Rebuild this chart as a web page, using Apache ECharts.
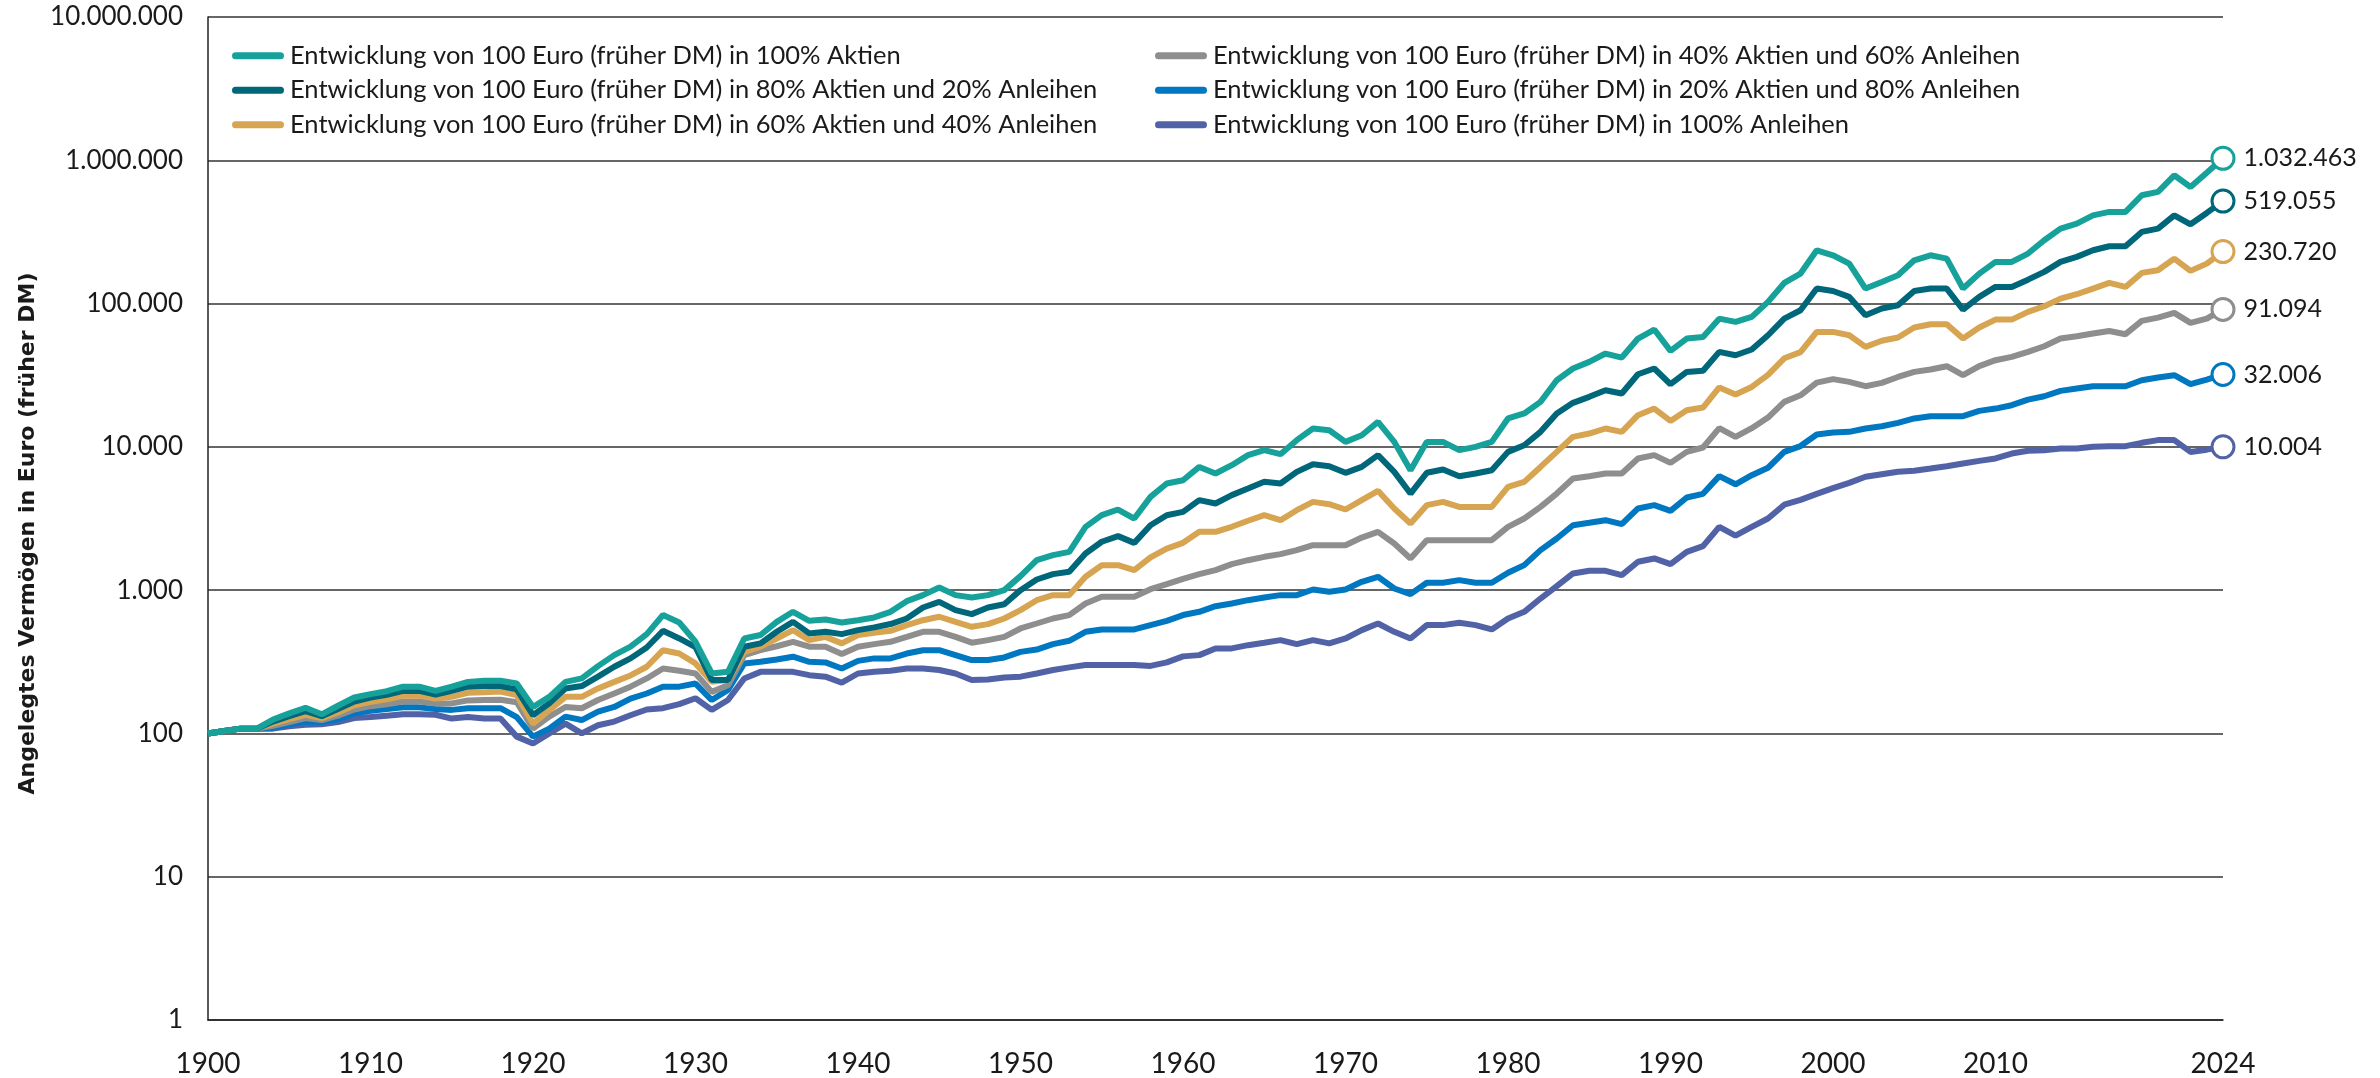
<!DOCTYPE html>
<html>
<head>
<meta charset="utf-8">
<title>Entwicklung von 100 Euro</title>
<script src="https://cdn.jsdelivr.net/npm/echarts@6/dist/echarts.min.js"></script>
<style>
html,body{margin:0;padding:0;background:#fff;}
#chart{width:2380px;height:1078px;}
</style>
</head>
<body>
<div id="chart"></div>
<script>
var startYear = 1900;
var xLabels = [1900,1910,1920,1930,1940,1950,1960,1970,1980,1990,2000,2010,2024];

var names = [
	"Entwicklung von 100 Euro (früher DM) in 100% Aktien",
	"Entwicklung von 100 Euro (früher DM) in 80% Aktien und 20% Anleihen",
	"Entwicklung von 100 Euro (früher DM) in 60% Aktien und 40% Anleihen",
	"Entwicklung von 100 Euro (früher DM) in 40% Aktien und 60% Anleihen",
	"Entwicklung von 100 Euro (früher DM) in 20% Aktien und 80% Anleihen",
	"Entwicklung von 100 Euro (früher DM) in 100% Anleihen"
];
var colors = ["#16a29a","#00677a","#d7a552","#8e8e8e","#0078c1","#5163a6"];

// Werte 1900 - 2024, je Jahr ein Wert
var aktien100 = [
	100,104,108,108,125,138,151,136,156,178,
	188,197,212,212,198,212,229,233,233,223,
	153,180,229,242,295,352,403,493,670,595,
	436,262,269,460,486,601,706,611,624,594,
	617,645,706,838,923,1044,923,889,923,1000,
	1253,1620,1755,1850,2765,3337,3653,3162,4477,5546,
	5848,7244,6513,7447,8750,9483,8892,11136,13430,13062,
	10832,12060,14929,10832,6866,10832,10832,9483,10000,10832,
	15780,17100,20620,29180,35230,39190,44800,41990,57000,65900,
	46800,57000,58500,78500,74500,80700,102700,139300,161900,235500,
	217300,190200,127300,141600,157700,200500,217300,206000,127300,161900,
	195400,195400,223400,276700,333600,361600,413000,436200,436200,570300,
	601700,785700,651600,820000,1032463
];
var aktien80 = [
	100,104,108,108,121,132,143,132,148,167,
	178,186,198,198,187,198,212,214,214,203,
	134,162,206,214,249,292,334,398,520,460,
	400,236,236,403,425,512,601,499,512,493,
	526,550,580,634,757,829,725,680,757,798,
	1000,1186,1294,1343,1803,2175,2382,2138,2840,3335,
	3520,4250,4027,4603,5120,5700,5546,6690,7570,7330,
	6590,7244,8750,6690,4720,6590,6950,6240,6513,6870,
	9225,10270,12730,17100,20280,22340,24850,23560,32130,35220,
	27360,33350,34000,46000,43600,47800,60100,78500,89800,127300,
	122500,111300,82900,92300,97300,122500,127300,127300,90800,111300,
	130700,130700,146900,166400,195400,211800,235500,251300,251300,316200,
	333600,413000,357500,429000,519055
];
var aktien60 = [
	100,104,108,108,117,126,135,128,140,157,
	166,173,183,183,175,180,192,194,196,185,
	117,145,180,180,206,229,254,292,381,361,
	308,229,236,371,403,460,526,448,472,425,
	486,504,520,570,617,652,601,555,579,634,
	725,851,923,923,1239,1493,1493,1380,1690,1950,
	2140,2552,2552,2767,3048,3337,3078,3614,4130,3980,
	3655,4250,4933,3716,2918,3917,4130,3810,3810,3810,
	5260,5700,7244,9225,11750,12390,13430,12730,16640,18500,
	15180,18030,18800,26000,23200,26200,31800,41500,45800,63400,
	63400,60100,49900,55000,58000,68100,71800,71800,57000,68100,
	77300,77300,87500,95800,108300,116200,127300,139300,130700,163700,
	171000,206000,169100,190000,230720
];
var aktien40 = [
	100,104,108,108,113,120,128,124,133,147,
	155,160,167,167,162,162,170,171,172,165,
	108,131,153,150,171,190,212,242,284,274,
	262,195,217,352,381,406,436,403,403,358,
	403,420,436,472,512,512,472,430,448,472,
	540,585,634,669,807,898,898,898,1015,1100,
	1200,1293,1379,1518,1618,1708,1783,1901,2060,2060,
	2060,2328,2552,2118,1664,2233,2233,2233,2233,2233,
	2767,3162,3812,4721,6010,6238,6513,6513,8298,8757,
	7730,9225,9900,13500,11750,13500,16000,20600,22900,28100,
	29700,28400,26500,27970,30750,33350,34660,36560,31620,36560,
	40260,42480,46030,50370,57000,59180,61820,64420,61140,75690,
	79810,86080,73280,78500,91094
];
var aktien20 = [
	100,104,108,108,110,116,121,120,126,138,
	144,148,152,152,148,146,150,150,150,130,
	95,108,131,124,142,153,175,190,212,212,
	223,171,201,308,316,328,343,316,313,284,
	321,334,334,361,381,381,352,325,325,339,
	371,385,420,443,512,532,532,532,570,610,
	670,706,773,807,851,889,923,923,1011,974,
	1011,1143,1239,1027,938,1125,1125,1174,1125,1125,
	1321,1494,1901,2293,2839,2950,3077,2885,3716,3918,
	3574,4433,4700,6250,5480,6340,7150,9220,10130,12200,
	12600,12730,13430,13930,14700,15780,16370,16370,16370,17830,
	18500,19530,21380,22550,24590,25530,26480,26480,26480,29180,
	30470,31620,27360,29500,32006
];
var anleihen100 = [
	100,104,108,108,108,112,115,116,120,128,
	130,133,136,136,135,127,130,127,127,95,
	85,100,117,100,114,121,134,147,150,160,
	176,146,171,242,269,269,269,255,249,226,
	262,269,274,284,284,277,262,236,238,246,
	249,262,277,289,300,300,300,300,296,313,
	345,352,392,392,413,429,448,420,448,425,
	460,526,585,512,460,570,570,592,570,532,
	634,706,874,1066,1307,1365,1365,1273,1577,1664,
	1518,1850,2030,2767,2400,2767,3162,3950,4270,4700,
	5150,5607,6180,6445,6694,6807,7061,7330,7652,7986,
	8298,8983,9382,9483,9737,9737,10000,10110,10110,10670,
	11150,11150,9220,9560,10004
];
var seriesValues = [aktien100, aktien80, aktien60, aktien40, aktien20, anleihen100];

var FONT = "Lato, 'Noto Sans', sans-serif";
var TEXT_COLOR = "#1a1a1a";

//Tausenderpunkte
function toDe(v){
	return String(Math.round(v)).replace(/\B(?=(\d{3})+(?!\d))/g, ".");
}

function buildData(list, color){
	var data = [];
	for(var i=0;i<list.length;i++){
		var item = {value:[startYear + i, list[i]]};
		if(i == list.length - 1){
			item.symbol = "circle";
			item.symbolSize = 22;
			item.itemStyle = {color:"#fff", borderColor:color, borderWidth:3};
			item.label = {
				show:true, position:"right", distance:8,
				formatter:function(p){ return toDe(p.value[1]); },
				fontFamily:FONT, fontSize:25, color:TEXT_COLOR
			};
		}
		data.push(item);
	}
	return data;
}

function buildSeries(){
	var list = [];
	//Anleihen zuerst, Aktien oben drauf
	for(var i=seriesValues.length-1;i>=0;i--){
		list.push({
			name:names[i],
			type:"line",
			symbol:"none",
			showSymbol:true,
			color:colors[i],
			lineStyle:{width:6, color:colors[i]},
			emphasis:{disabled:true},
			z:2,
			data:buildData(seriesValues[i], colors[i])
		});
	}
	return list;
}

var legendIcon = "path://M3.5,0 L48.5,0 A3.5,3.5 0 0 1 48.5,7 L3.5,7 A3.5,3.5 0 0 1 3.5,0 Z";
function legendOpt(left, data){
	return {
		orient:"vertical", left:left, top:37,
		itemWidth:52, itemHeight:7, itemGap:7,
		icon:legendIcon,
		selectedMode:false,
		data:data,
		textStyle:{fontFamily:FONT, fontSize:25.5, color:TEXT_COLOR, lineHeight:27.5, padding:[0,0,0,1]}
	};
}

var myChart = echarts.init(document.getElementById("chart"));
myChart.setOption({
	animation:false,
	backgroundColor:"#fff",
	grid:{left:208, right:157, top:17, bottom:58, containLabel:false},
	legend:[
		legendOpt(227, [names[0], names[1], names[2]]),
		legendOpt(1150, [names[3], names[4], names[5]])
	],
	xAxis:{
		type:"value", min:1900, max:2024,
		axisLine:{show:true, lineStyle:{color:"#222", width:1.5}},
		axisTick:{show:false},
		splitLine:{show:false},
		axisLabel:{
			customValues:xLabels,
			margin:30, fontFamily:FONT, fontSize:28, color:TEXT_COLOR,
			formatter:function(v){ return String(v); }
		}
	},
	yAxis:{
		type:"log", logBase:10, min:1, max:10000000,
		name:"Angelegtes Vermögen in Euro (früher DM)",
		nameLocation:"middle", nameRotate:90, nameGap:160,
		nameTextStyle:{fontFamily:"'DejaVu Sans', sans-serif", fontWeight:"bold", fontSize:22, color:TEXT_COLOR, padding:[0,0,0,-30]},
		axisLine:{show:true, lineStyle:{color:"#222", width:1.5}},
		axisTick:{show:false},
		splitLine:{show:true, lineStyle:{color:"#333", width:1.5}},
		axisLabel:{
			margin:25, fontFamily:FONT, fontSize:26, color:TEXT_COLOR,
			formatter:function(v){ return toDe(v); }
		}
	},
	series:buildSeries()
});
</script>
</body>
</html>
